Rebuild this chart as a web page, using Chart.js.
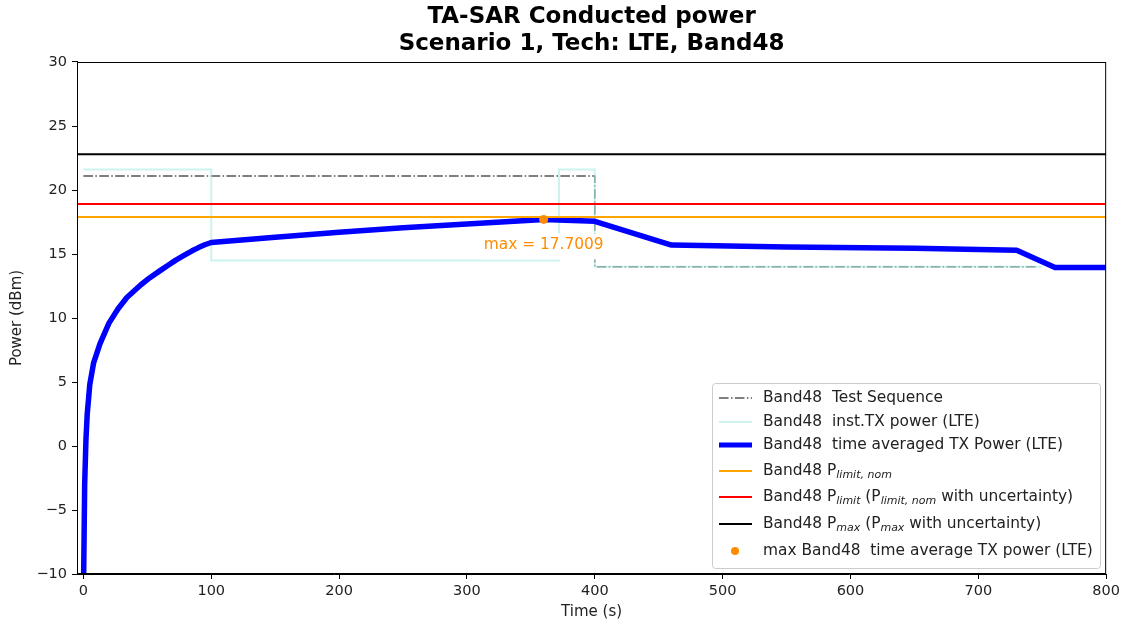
<!DOCTYPE html>
<html>
<head>
<meta charset="utf-8">
<script src="https://cdn.jsdelivr.net/npm/chart.js@4/dist/chart.umd.min.js"></script>
<style>
  html, body { margin: 0; padding: 0; background: #fff; }
  #wrap { width: 1124px; height: 624px; }
</style>
</head>
<body>
<div id="wrap"><canvas id="c" width="1124" height="624"></canvas></div>
<script>
// ---------- data ----------
const titleLines = ['TA-SAR Conducted power', 'Scenario 1, Tech: LTE, Band48'];
const xTickValues = [0, 100, 200, 300, 400, 500, 600, 700, 800];
const yTickValues = [-10, -5, 0, 5, 10, 15, 20, 25, 30];

const testSeqTime  = [0, 400, 400, 745];
const testSeqPower = [21.1, 21.1, 14.0, 14.0];

const instTime  = [0, 100, 100, 372, 372, 400, 400, 750];
const instPower = [21.6, 21.6, 14.5, 14.5, 21.6, 21.6, 14.0, 14.0];

const avgTime  = [0, 1, 2, 3, 5, 8, 13, 20, 27, 34, 45, 52, 60, 66, 72, 78, 85, 90, 95, 100, 150, 200, 250, 300, 360, 400, 460, 550, 650, 730, 760, 800];
const avgPower = [-12, -3, 0.5, 2.5, 4.8, 6.5, 8.0, 9.6, 10.7, 11.6, 12.6, 13.15, 13.7, 14.1, 14.5, 14.85, 15.25, 15.5, 15.72, 15.9, 16.3, 16.7, 17.05, 17.35, 17.70, 17.55, 15.7, 15.55, 15.45, 15.3, 13.95, 13.95];

const limitSpan = [-5, 800];
const pLimitNom = 17.9;
const pLimit = 18.9;
const pMax = 22.8;

const maxTime = 360;
const maxPower = 17.7009;

// ---------- helpers ----------
const pts = (xs, ys) => xs.map((x, i) => ({ x: x, y: ys[i] }));
const hline = (v) => limitSpan.map(x => ({ x: x, y: v }));
const FONT = 'DejaVu Sans';
const minus = v => String(v).replace('-', '\u2212');

const colTest = '#555555';
const colInst = 'rgba(170,236,226,0.6)';
const colAvg = '#0000ff';
const colNom = '#ffa500';
const colLimit = '#ff0000';
const colMax = '#000000';
const colDot = '#ff8c00';

const legendItems = [
  { kind: 'dashdot', color: colTest, width: 1.5, segs: [['Band48  Test Sequence', false]] },
  { kind: 'line', color: colInst, width: 2, segs: [['Band48  inst.TX power (LTE)', false]] },
  { kind: 'line', color: colAvg, width: 5, segs: [['Band48  time averaged TX Power (LTE)', false]] },
  { kind: 'line', color: colNom, width: 2, segs: [['Band48 P', false], ['limit, nom', true]] },
  { kind: 'line', color: colLimit, width: 2, segs: [['Band48 P', false], ['limit', true], [' (P', false], ['limit, nom', true], [' with uncertainty)', false]] },
  { kind: 'line', color: colMax, width: 2, segs: [['Band48 P', false], ['max', true], [' (P', false], ['max', true], [' with uncertainty)', false]] },
  { kind: 'dot', color: colDot, width: 0, segs: [['max Band48  time average TX power (LTE)', false]] }
];

const framePlugin = {
  id: 'frame',
  afterDatasetsDraw(chart) {
    const ctx = chart.ctx;
    const xs = chart.scales.x, ys = chart.scales.y;
    const px = xs.getPixelForValue(maxTime), py = ys.getPixelForValue(maxPower);
    const label = 'max = ' + maxPower.toFixed(4);
    ctx.save();
    ctx.font = '15.4px ' + FONT;
    const w = ctx.measureText(label).width;
    const ty = py + 26;
    ctx.fillStyle = '#ffffff';
    ctx.fillRect(px - w / 2 - 4, ty - 12, w + 8, 26);
    ctx.fillStyle = colDot;
    ctx.textAlign = 'center';
    ctx.textBaseline = 'middle';
    ctx.fillText(label, px, ty);
    ctx.restore();
  },
  afterDraw(chart) {
    const ctx = chart.ctx, a = chart.chartArea;
    ctx.save();
    ctx.strokeStyle = '#000';
    ctx.lineWidth = 1;
    ctx.strokeRect(a.left + 0.5, a.top + 0.5, a.right - a.left - 1, a.bottom - a.top - 1);
    ctx.restore();

    const lx = 712, ly = 383, lw = 388, lh = 185;
    ctx.save();
    ctx.fillStyle = 'rgba(255,255,255,0.85)';
    ctx.strokeStyle = '#cccccc';
    ctx.lineWidth = 1;
    ctx.beginPath();
    if (ctx.roundRect) ctx.roundRect(lx + 0.5, ly + 0.5, lw, lh, 3); else ctx.rect(lx + 0.5, ly + 0.5, lw, lh);
    ctx.fill();
    ctx.stroke();
    const rowsY = [398, 422, 445, 471, 497, 524, 551];
    legendItems.forEach((it, i) => {
      const y = rowsY[i];
      ctx.save();
      if (it.kind === 'dot') {
        ctx.fillStyle = it.color;
        ctx.beginPath();
        ctx.arc(735, y, 4, 0, Math.PI * 2);
        ctx.fill();
      } else {
        ctx.strokeStyle = it.color;
        ctx.lineWidth = it.width;
        ctx.lineCap = 'butt';
        if (it.kind === 'dashdot') ctx.setLineDash([9.6, 2.4, 1.5, 2.4]);
        ctx.beginPath();
        ctx.moveTo(719, y);
        ctx.lineTo(752, y);
        ctx.stroke();
      }
      ctx.restore();
      let x = 763;
      ctx.textBaseline = 'middle';
      ctx.textAlign = 'left';
      ctx.fillStyle = '#222';
      it.segs.forEach(([t, sub]) => {
        if (sub) {
          ctx.font = 'italic 11px ' + FONT;
          ctx.fillText(t, x, y + 4);
        } else {
          ctx.font = '15.4px ' + FONT;
          ctx.fillText(t, x, y);
        }
        x += ctx.measureText(t).width;
      });
    });
    ctx.restore();
  }
};

new Chart(document.getElementById('c'), {
  type: 'line',
  data: {
    datasets: [
      { label: 'max', data: [{ x: maxTime, y: maxPower }], showLine: false, pointRadius: 4.5, pointBackgroundColor: colDot, pointBorderWidth: 0, order: 0 },
      { label: 'pmax', data: hline(pMax), borderColor: colMax, borderWidth: 2, pointRadius: 0, order: 1 },
      { label: 'plimit', data: hline(pLimit), borderColor: colLimit, borderWidth: 2, pointRadius: 0, order: 2 },
      { label: 'pnom', data: hline(pLimitNom), borderColor: colNom, borderWidth: 2, pointRadius: 0, order: 3 },
      { label: 'avg', data: pts(avgTime, avgPower), borderColor: colAvg, borderWidth: 5.5, pointRadius: 0, borderJoinStyle: 'round', order: 4 },
      { label: 'inst', data: pts(instTime, instPower), borderColor: colInst, borderWidth: 2, pointRadius: 0, order: 5 },
      { label: 'test', data: pts(testSeqTime, testSeqPower), borderColor: colTest, borderWidth: 1.5, borderDash: [9.6, 2.4, 1.5, 2.4], pointRadius: 0, order: 6 }
    ]
  },
  options: {
    responsive: false,
    animation: false,
    events: [],
    layout: { padding: { left: 8, right: 17, top: 0, bottom: 3 } },
    plugins: {
      legend: { display: false },
      tooltip: { enabled: false },
      title: {
        display: true,
        text: titleLines,
        color: '#000',
        fullSize: false,
        font: { family: FONT, size: 23, weight: 'bold', lineHeight: 1.2 },
        padding: { top: 3, bottom: 3.8 }
      }
    },
    scales: {
      x: {
        type: 'linear',
        min: limitSpan[0],
        max: limitSpan[1],
        afterBuildTicks(s) { s.ticks = xTickValues.map(v => ({ value: v })); },
        afterFit(s) { s.height = 47; },
        ticks: { color: '#222', font: { family: FONT, size: 14.5 }, padding: 4, maxRotation: 0, callback: v => minus(v) },
        grid: { display: true, drawOnChartArea: false, drawTicks: true, tickLength: 5, color: '#000' },
        border: { display: true, color: '#000' },
        title: { display: true, text: 'Time (s)', color: '#222', font: { family: FONT, size: 15 }, padding: { top: 0, bottom: 0 } }
      },
      y: {
        type: 'linear',
        min: yTickValues[0],
        max: yTickValues[yTickValues.length - 1],
        afterBuildTicks(s) { s.ticks = yTickValues.map(v => ({ value: v })); },
        afterFit(s) { s.width = 69; },
        ticks: { color: '#222', font: { family: FONT, size: 14.5 }, padding: 5, callback: v => minus(v) },
        grid: { display: true, drawOnChartArea: false, drawTicks: true, tickLength: 5, color: '#000' },
        border: { display: true, color: '#000' },
        title: { display: true, text: 'Power (dBm)', color: '#222', font: { family: FONT, size: 15 }, padding: { top: 0, bottom: 0 } }
      }
    }
  },
  plugins: [framePlugin]
});
</script>
</body>
</html>
